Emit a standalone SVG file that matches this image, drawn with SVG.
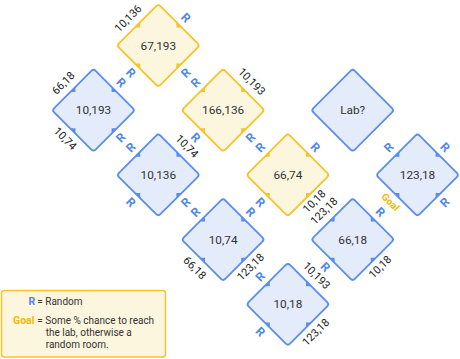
<svg xmlns="http://www.w3.org/2000/svg" xmlns:xlink="http://www.w3.org/1999/xlink" width="460" height="359" viewBox="0 0 460 359">
<style>
text{font-family:Roboto,"Liberation Sans",sans-serif}
.db{fill:#e4ecfc;stroke:#5a8eee;stroke-width:1.8}
.dy{fill:#fdf6df;stroke:#f5c32c;stroke-width:1.8}
.mb{fill:#5a8eee}
.my{fill:#f5c32c}
.nt{font-size:11.8px;fill:#333;text-anchor:middle;dominant-baseline:central}
.el{font-size:11px;fill:#222;text-anchor:middle;dominant-baseline:central}
.r{font-size:12px;font-weight:bold;fill:#4f86ec;text-anchor:middle;dominant-baseline:central}
.g{font-size:10px;font-weight:bold;fill:#f5b800;text-anchor:middle;dominant-baseline:central}
.lg{font-size:10px;fill:#333}
</style>
<defs>
<rect id="dia" x="-29.3" y="-29.3" width="58.6" height="58.6" rx="3" transform="rotate(45)"/>
<path id="mk" d="M-23.4,-18.1 L-18.1,-23.4 L-18.1,-18.1Z M18.1,-23.4 L23.4,-18.1 L18.1,-18.1Z M-23.4,18.1 L-18.1,23.4 L-18.1,18.1Z M18.1,23.4 L23.4,18.1 L18.1,18.1Z"/>
</defs>
<g id="connectors"/>

<g id="n67_193" transform="translate(158.3,45.5)">
<use xlink:href="#dia" class="dy"/><use xlink:href="#mk" class="my"/>
<text class="nt">67,193</text>
<text class="el" transform="translate(-30,-27) rotate(-45)">10,136</text>
<text class="r" transform="translate(27.5,-27.5) rotate(45)">R</text>
<text class="r" transform="translate(-27.5,27.5) rotate(45)">R</text>
<text class="r" transform="translate(27.5,27.5) rotate(-45)">R</text>
</g>

<g id="n10_193" transform="translate(93.5,110.2)">
<use xlink:href="#dia" class="db"/><use xlink:href="#mk" class="mb"/>
<text class="nt">10,193</text>
<text class="el" transform="translate(-30,-27) rotate(-45)">66,18</text>
<text class="r" transform="translate(27.5,-27.5) rotate(45)">R</text>
<text class="el" transform="translate(-28.5,28.5) rotate(45)">10,74</text>
<text class="r" transform="translate(27.5,27.5) rotate(-45)">R</text>
</g>

<g id="n166_136" transform="translate(223.1,110.2)">
<use xlink:href="#dia" class="dy"/><use xlink:href="#mk" class="my"/>
<text class="nt">166,136</text>
<text class="r" transform="translate(-27.5,-27.5) rotate(-45)">R</text>
<text class="el" transform="translate(28.5,-28.5) rotate(45)">10,193</text>
<text class="r" transform="translate(-27.5,27.5) rotate(45)">R</text>
<text class="r" transform="translate(27.5,27.5) rotate(-45)">R</text>
</g>

<g id="lab" transform="translate(352.7,110.2)">
<use xlink:href="#dia" class="db"/>
<text class="nt">Lab?</text>
</g>

<g id="n10_136" transform="translate(158.3,174.9)">
<use xlink:href="#dia" class="db"/><use xlink:href="#mk" class="mb"/>
<text class="nt">10,136</text>
<text class="r" transform="translate(-27.5,-27.5) rotate(-45)">R</text>
<text class="el" transform="translate(28.5,-28.5) rotate(45)">10,74</text>
<text class="r" transform="translate(-27.5,27.5) rotate(45)">R</text>
<text class="r" transform="translate(27.5,27.5) rotate(-45)">R</text>
</g>

<g id="n66_74" transform="translate(287.9,174.9)">
<use xlink:href="#dia" class="dy"/><use xlink:href="#mk" class="my"/>
<text class="nt">66,74</text>
<text class="r" transform="translate(-27.5,-27.5) rotate(-45)">R</text>
<text class="r" transform="translate(27.5,-27.5) rotate(45)">R</text>
<text class="r" transform="translate(-27.5,27.5) rotate(45)">R</text>
<text class="el" transform="translate(26.5,26.5) rotate(-45)">10,18</text>
</g>

<g id="n123_18" transform="translate(417.5,174.9)">
<use xlink:href="#dia" class="db"/><use xlink:href="#mk" class="mb"/>
<text class="nt">123,18</text>
<text class="r" transform="translate(-28.5,-27.5) rotate(-45)">R</text>
<text class="r" transform="translate(27.5,-27.5) rotate(45)">R</text>
<text class="g" transform="translate(-27,27) rotate(45)">Goal</text>
<text class="r" transform="translate(27.5,27.5) rotate(-45)">R</text>
</g>

<g id="n10_74" transform="translate(223.1,239.6)">
<use xlink:href="#dia" class="db"/><use xlink:href="#mk" class="mb"/>
<text class="nt">10,74</text>
<text class="r" transform="translate(-27.5,-27.5) rotate(-45)">R</text>
<text class="r" transform="translate(27.5,-27.5) rotate(45)">R</text>
<text class="el" transform="translate(-28.5,28.5) rotate(45)">66,18</text>
<text class="el" transform="translate(27.5,27.5) rotate(-45)">123,18</text>
</g>

<g id="n66_18" transform="translate(352.7,239.6)">
<use xlink:href="#dia" class="db"/><use xlink:href="#mk" class="mb"/>
<text class="nt">66,18</text>
<text class="el" transform="translate(-28.5,-28.5) rotate(-45)">123,18</text>
<text class="r" transform="translate(27.5,-27.5) rotate(45)">R</text>
<text class="r" transform="translate(-27.5,27.5) rotate(45)">R</text>
<text class="el" transform="translate(27.5,27.5) rotate(-45)">10,18</text>
</g>

<g id="n10_18" transform="translate(287.9,304.3)">
<use xlink:href="#dia" class="db"/><use xlink:href="#mk" class="mb"/>
<text class="nt">10,18</text>
<text class="r" transform="translate(-27.5,-27.5) rotate(-45)">R</text>
<text class="el" transform="translate(28.5,-28.5) rotate(45)">10,193</text>
<text class="r" transform="translate(-27.5,27.5) rotate(45)">R</text>
<text class="el" transform="translate(28,28) rotate(-45)">123,18</text>
</g>

<g id="legend">
<rect x="1.5" y="290.5" width="164" height="66.5" rx="3" fill="#fdf6df" stroke="#f5c32c" stroke-width="1.5"/>
<text x="35.3" y="305.2" text-anchor="end" style="font-size:10.5px;font-weight:bold;fill:#4f86ec">R</text>
<text x="37.3" y="305.2" class="lg">= Random</text>
<text x="34.5" y="324.4" text-anchor="end" style="font-size:10.5px;font-weight:bold;fill:#f5b800">Goal</text>
<text x="37.3" y="324.4" class="lg">= Some % chance to reach</text>
<text x="45.7" y="336.4" class="lg">the lab, otherwise a</text>
<text x="45.7" y="348.4" class="lg">random room.</text>
</g>
</svg>
